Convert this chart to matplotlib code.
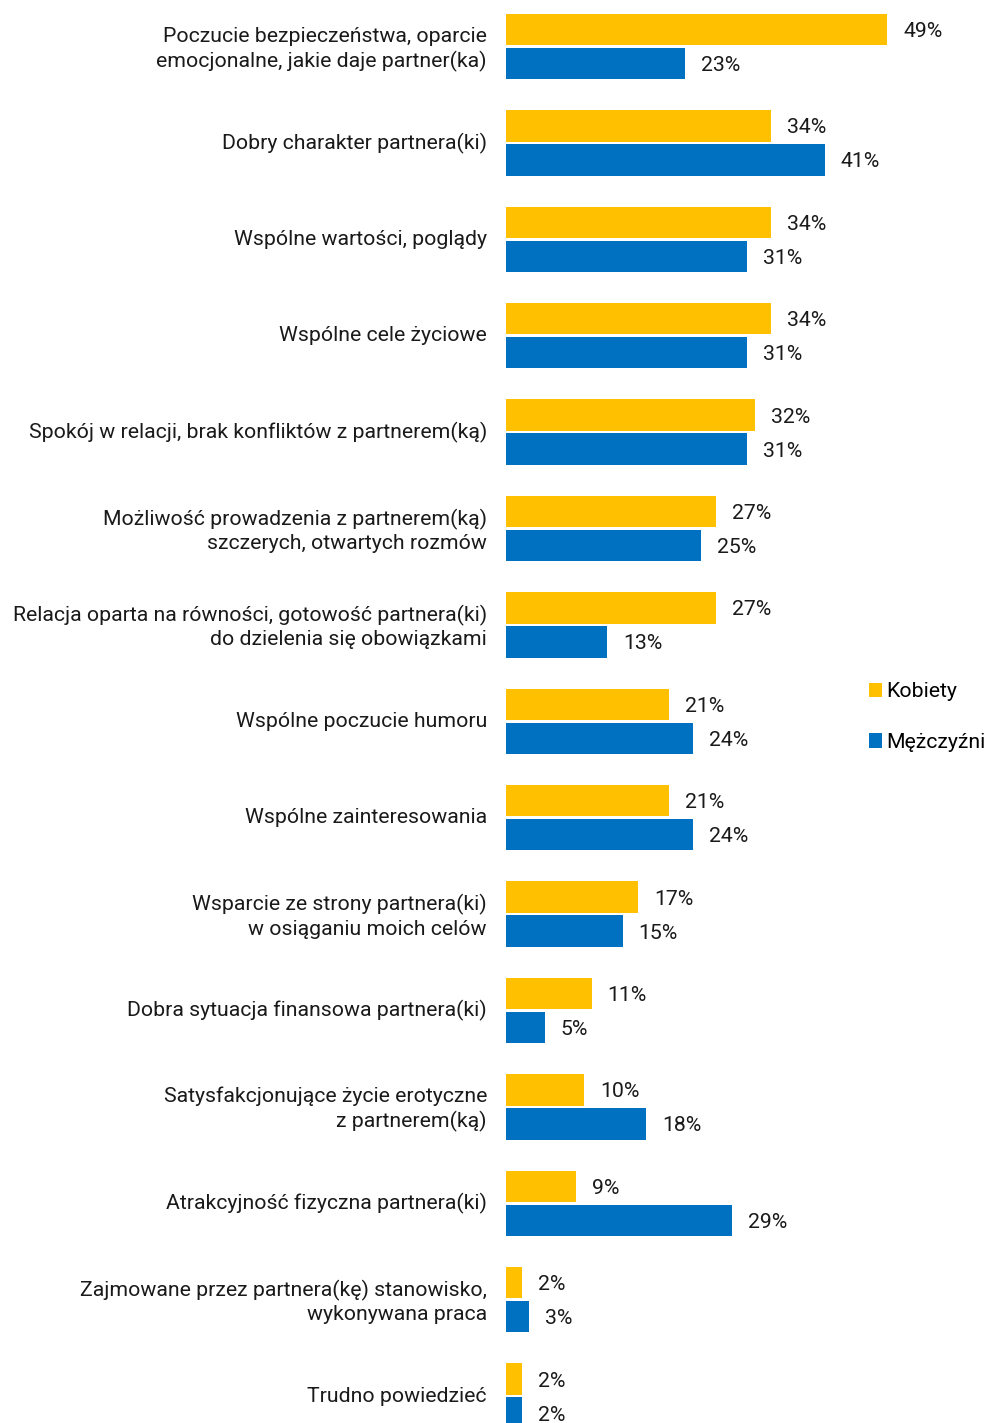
import matplotlib.pyplot as plt
import matplotlib.transforms as mtransforms
import numpy as np

plt.rcParams['font.family'] = ['Roboto', 'DejaVu Sans']

categories = [
    "Poczucie bezpieczeństwa, oparcie\nemocjonalne, jakie daje partner(ka)",
    "Dobry charakter partnera(ki)",
    "Wspólne wartości, poglądy",
    "Wspólne cele życiowe",
    "Spokój w relacji, brak konfliktów z partnerem(ką)",
    "Możliwość prowadzenia z partnerem(ką)\nszczerych, otwartych rozmów",
    "Relacja oparta na równości, gotowość partnera(ki)\ndo dzielenia się obowiązkami",
    "Wspólne poczucie humoru",
    "Wspólne zainteresowania",
    "Wsparcie ze strony partnera(ki)\nw osiąganiu moich celów",
    "Dobra sytuacja finansowa partnera(ki)",
    "Satysfakcjonujące życie erotyczne\nz partnerem(ką)",
    "Atrakcyjność fizyczna partnera(ki)",
    "Zajmowane przez partnera(kę) stanowisko,\nwykonywana praca",
    "Trudno powiedzieć",
]
kobiety = [49, 34, 34, 34, 32, 27, 27, 21, 21, 17, 11, 10, 9, 2, 2]
mezczyzni = [23, 41, 31, 31, 31, 25, 13, 24, 24, 15, 5, 18, 29, 3, 2]

yellow = "#FFC000"
blue = "#0070C0"
fs = 15.3

W, H = 985, 1423
fig = plt.figure(figsize=(W / 100, H / 100), dpi=100)
ax = fig.add_axes([506 / W, 0, 1 - 506 / W, 1])

y = np.arange(len(categories))
h = 0.325
off = 0.176
ax.barh(y - off, kobiety, height=h, color=yellow, label="Kobiety")
ax.barh(y + off, mezczyzni, height=h, color=blue, label="Mężczyźni")

for yi, k, m in zip(y, kobiety, mezczyzni):
    ax.annotate(f"{k}%", (k, yi - off), xytext=(16, -2), textcoords="offset pixels",
                va="center", ha="left", fontsize=fs, color="#1a1a1a")
    ax.annotate(f"{m}%", (m, yi + off), xytext=(16, -2), textcoords="offset pixels",
                va="center", ha="left", fontsize=fs, color="#1a1a1a")

ax.set_xlim(0, 479 / 7.78)
ax.set_ylim((H - 46.5) / 96.4, -46.5 / 96.4)
ax.set_yticks(y)
ax.set_yticklabels(categories, fontsize=fs, color="#1a1a1a", ha="right", linespacing=1.3)
ax.tick_params(axis="y", length=0, pad=13.7)
ax.set_xticks([])
for s in ax.spines.values():
    s.set_visible(False)

# nudge category labels up a little
shift = mtransforms.ScaledTranslation(0, 2 / 100, fig.dpi_scale_trans)
for lbl in ax.get_yticklabels():
    lbl.set_transform(lbl.get_transform() + shift)

fig.legend(loc="center left", bbox_to_anchor=(860 / W, 1 - 717 / H), frameon=False,
           fontsize=fs, handlelength=0.65, handleheight=0.65, handletextpad=0.2,
           labelspacing=1.5, borderaxespad=0)

fig.savefig("out.png", dpi=100)
